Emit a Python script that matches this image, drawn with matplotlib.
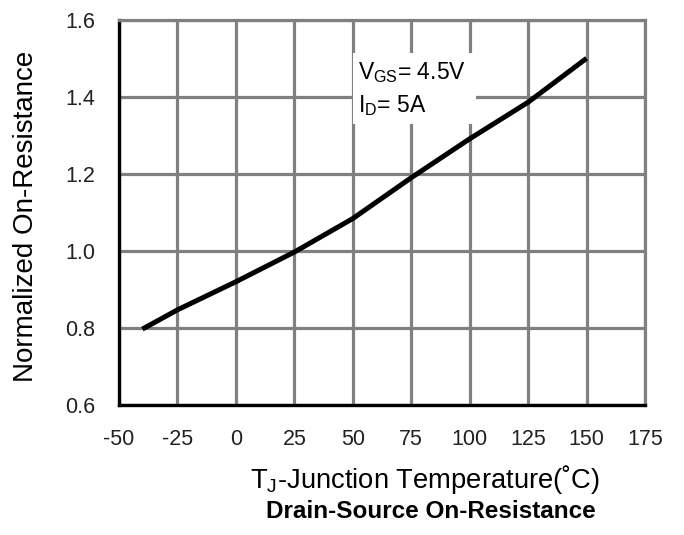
import matplotlib
matplotlib.use("Agg")
import matplotlib.pyplot as plt
from matplotlib import font_manager
from matplotlib.patches import Rectangle

plt.rcParams["font.family"] = ["Liberation Sans", "DejaVu Sans"]
plt.rcParams["mathtext.fontset"] = "custom"
plt.rcParams["mathtext.rm"] = "Liberation Sans"

# Normalized on-resistance vs junction temperature
temp_c = [-40, -25, 0, 25, 50, 75, 100, 125, 150]
r_norm = [0.797, 0.847, 0.920, 0.997, 1.084, 1.190, 1.291, 1.386, 1.500]

x_ticks = [-50, -25, 0, 25, 50, 75, 100, 125, 150, 175]
y_ticks = [0.6, 0.8, 1.0, 1.2, 1.4, 1.6]

GRID = "#808080"

names = {f.name for f in font_manager.fontManager.ttflist}
narrow = "Liberation Sans Narrow" in names
title_font = "Liberation Sans Narrow" if narrow else "Liberation Sans"
title_size = 20.5 if narrow else 17.5

fig = plt.figure(figsize=(6.84, 5.35), dpi=100)
ax = fig.add_axes([0.174, 0.243, 0.769, 0.720])

ax.set_xlim(-50, 175)
ax.set_ylim(0.6, 1.6)
ax.set_xticks(x_ticks)
ax.set_yticks(y_ticks)
ax.set_xticklabels([str(t) for t in x_ticks])
ax.set_yticklabels([f"{t:.1f}" for t in y_ticks])
ax.tick_params(length=0, labelsize=15.5, colors="#222222")
ax.tick_params(axis="x", pad=17)
ax.tick_params(axis="y", pad=17)

ax.set_axisbelow(True)
ax.grid(True, color=GRID, lw=2.3)
for side in ("top", "right"):
    ax.spines[side].set_color(GRID)
    ax.spines[side].set_linewidth(2.3)
for side in ("left", "bottom"):
    ax.spines[side].set_color("black")
    ax.spines[side].set_linewidth(2.4)

# white box behind the condition text
ax.add_patch(Rectangle((50.3, 1.33), 52.5, 0.185, facecolor="white",
                       edgecolor="none", zorder=1))
ax.text(52.3, 1.462, r"V$_\mathregular{GS}$= 4.5V", fontsize=16.5,
        va="center", ha="left", zorder=4)
ax.text(52.3, 1.378, r"I$_\mathregular{D}$= 5A", fontsize=16.5,
        va="center", ha="left", zorder=4)

ax.plot(temp_c, r_norm, color="black", lw=3.6, zorder=3,
        solid_capstyle="butt")

ax.set_ylabel("Normalized On-Resistance", fontsize=20)
ax.yaxis.set_label_coords(-0.152, 0.49)

fig.text(0.622, 0.103, r"T$_\mathregular{J}$-Junction Temperature(˚C)",
         fontsize=19.7, ha="center", va="center")
fig.text(0.630, 0.043, "Drain-Source On-Resistance", fontsize=title_size,
         family=[title_font, "DejaVu Sans"], fontweight="bold",
         ha="center", va="center")

fig.savefig("out.png", dpi=100, facecolor="white")
